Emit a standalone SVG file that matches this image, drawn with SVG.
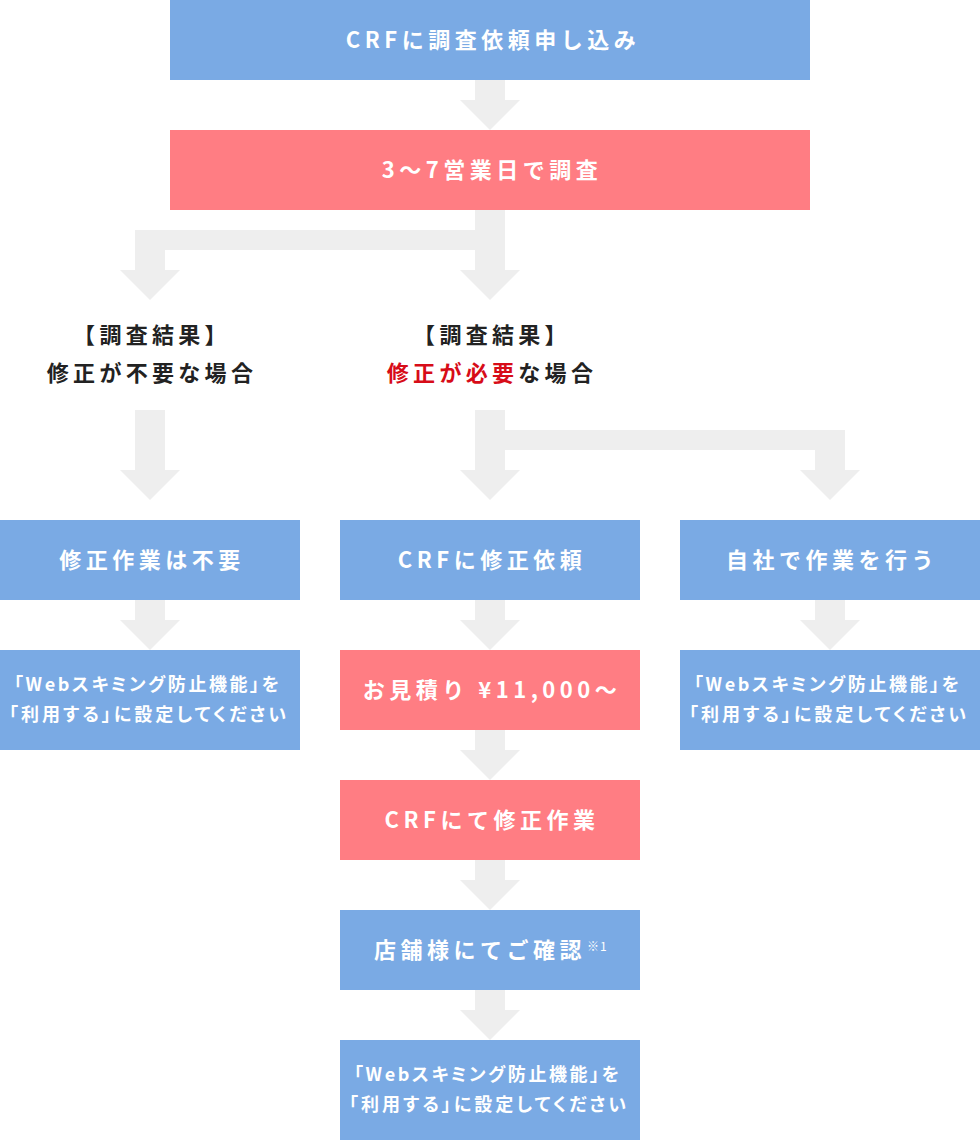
<svg xmlns="http://www.w3.org/2000/svg" width="980" height="1140" viewBox="0 0 980 1140">
<style>
  .blue { fill: #7aaae4; }
  .pink { fill: #ff7d83; }
  .arrow { fill: #eeeeee; }
  text { font-family: "Noto Sans CJK JP", "Noto Sans", sans-serif; font-weight: bold; }
  .lbl { fill: #ffffff; font-size: 22px; letter-spacing: 4.5px; text-anchor: middle; }
  .sm { fill: #ffffff; font-size: 18px; font-feature-settings: "palt"; }
  .head { fill: #222222; font-size: 22px; letter-spacing: 4.3px; text-anchor: middle; }
  .red { fill: #d70c18; }
  .sup { fill: #ffffff; font-size: 12px; letter-spacing: 1px; font-weight: normal; }
</style>
<rect width="980" height="1140" fill="#ffffff"/>
<g id="connectors">
  <polygon class="arrow" points="475,80 505,80 505,100 520,100 490,130 460,100 475,100"/>
  <polygon class="arrow" points="475,210 505,210 505,270 520,270 490,300 460,270 475,270 475,250 165,250 165,270 180,270 150,300 120,270 135,270 135,230 475,230"/>
  <polygon class="arrow" points="135,410 165,410 165,470 180,470 150,500 120,470 135,470"/>
  <polygon class="arrow" points="475,410 505,410 505,430 845,430 845,470 860,470 830,500 800,470 815,470 815,450 505,450 505,470 520,470 490,500 460,470 475,470"/>
  <polygon class="arrow" points="135,600 165,600 165,620 180,620 150,650 120,620 135,620"/>
  <polygon class="arrow" points="475,600 505,600 505,620 520,620 490,650 460,620 475,620"/>
  <polygon class="arrow" points="815,600 845,600 845,620 860,620 830,650 800,620 815,620"/>
  <polygon class="arrow" points="475,730 505,730 505,750 520,750 490,780 460,750 475,750"/>
  <polygon class="arrow" points="475,860 505,860 505,880 520,880 490,910 460,880 475,880"/>
  <polygon class="arrow" points="475,990 505,990 505,1010 520,1010 490,1040 460,1010 475,1010"/>
</g>
<g id="node-apply">
  <rect class="blue" x="170" y="0" width="640" height="80"/>
  <text class="lbl" x="493" y="48">CRFに調査依頼申し込み</text>
</g>
<g id="node-survey">
  <rect class="pink" x="170" y="130" width="640" height="80"/>
  <text class="lbl" x="492" y="178">3〜7営業日で調査</text>
</g>
<g id="label-no-fix">
  <text class="head" x="152" y="343">【調査結果】</text>
  <text class="head" x="152" y="381">修正が不要な場合</text>
</g>
<g id="label-fix">
  <text class="head" x="492" y="343">【調査結果】</text>
  <text class="head" x="492" y="381"><tspan class="red">修正が必要</tspan>な場合</text>
</g>
<g id="node-no-work">
  <rect class="blue" x="0" y="520" width="300" height="80"/>
  <text class="lbl" x="152" y="568">修正作業は不要</text>
</g>
<g id="node-request-fix">
  <rect class="blue" x="340" y="520" width="300" height="80"/>
  <text class="lbl" x="492" y="568">CRFに修正依頼</text>
</g>
<g id="node-self-work">
  <rect class="blue" x="680" y="520" width="300" height="80"/>
  <text class="lbl" x="832" y="568">自社で作業を行う</text>
</g>
<g id="node-setting-left">
  <rect class="blue" x="0" y="650" width="300" height="100"/>
  <text class="sm" x="14" y="691" textLength="265" lengthAdjust="spacing">「Webスキミング防止機能」を</text>
  <text class="sm" x="9" y="721" textLength="277" lengthAdjust="spacing">「利用する」に設定してください</text>
</g>
<g id="node-estimate">
  <rect class="pink" x="340" y="650" width="300" height="80"/>
  <text class="lbl" x="492" y="698">お見積り ¥11,000〜</text>
</g>
<g id="node-setting-right">
  <rect class="blue" x="680" y="650" width="300" height="100"/>
  <text class="sm" x="694" y="691" textLength="265" lengthAdjust="spacing">「Webスキミング防止機能」を</text>
  <text class="sm" x="689" y="721" textLength="277" lengthAdjust="spacing">「利用する」に設定してください</text>
</g>
<g id="node-crf-work">
  <rect class="pink" x="340" y="780" width="300" height="80"/>
  <text class="lbl" x="492" y="828">CRFにて修正作業</text>
</g>
<g id="node-confirm">
  <rect class="blue" x="340" y="910" width="300" height="80"/>
  <text class="lbl" x="374" y="958" style="text-anchor:start">店舗様にてご確認</text>
  <text class="sup" x="587" y="951">※1</text>
</g>
<g id="node-setting-center">
  <rect class="blue" x="340" y="1040" width="300" height="100"/>
  <text class="sm" x="354" y="1081" textLength="265" lengthAdjust="spacing">「Webスキミング防止機能」を</text>
  <text class="sm" x="349" y="1111" textLength="277" lengthAdjust="spacing">「利用する」に設定してください</text>
</g>
</svg>
